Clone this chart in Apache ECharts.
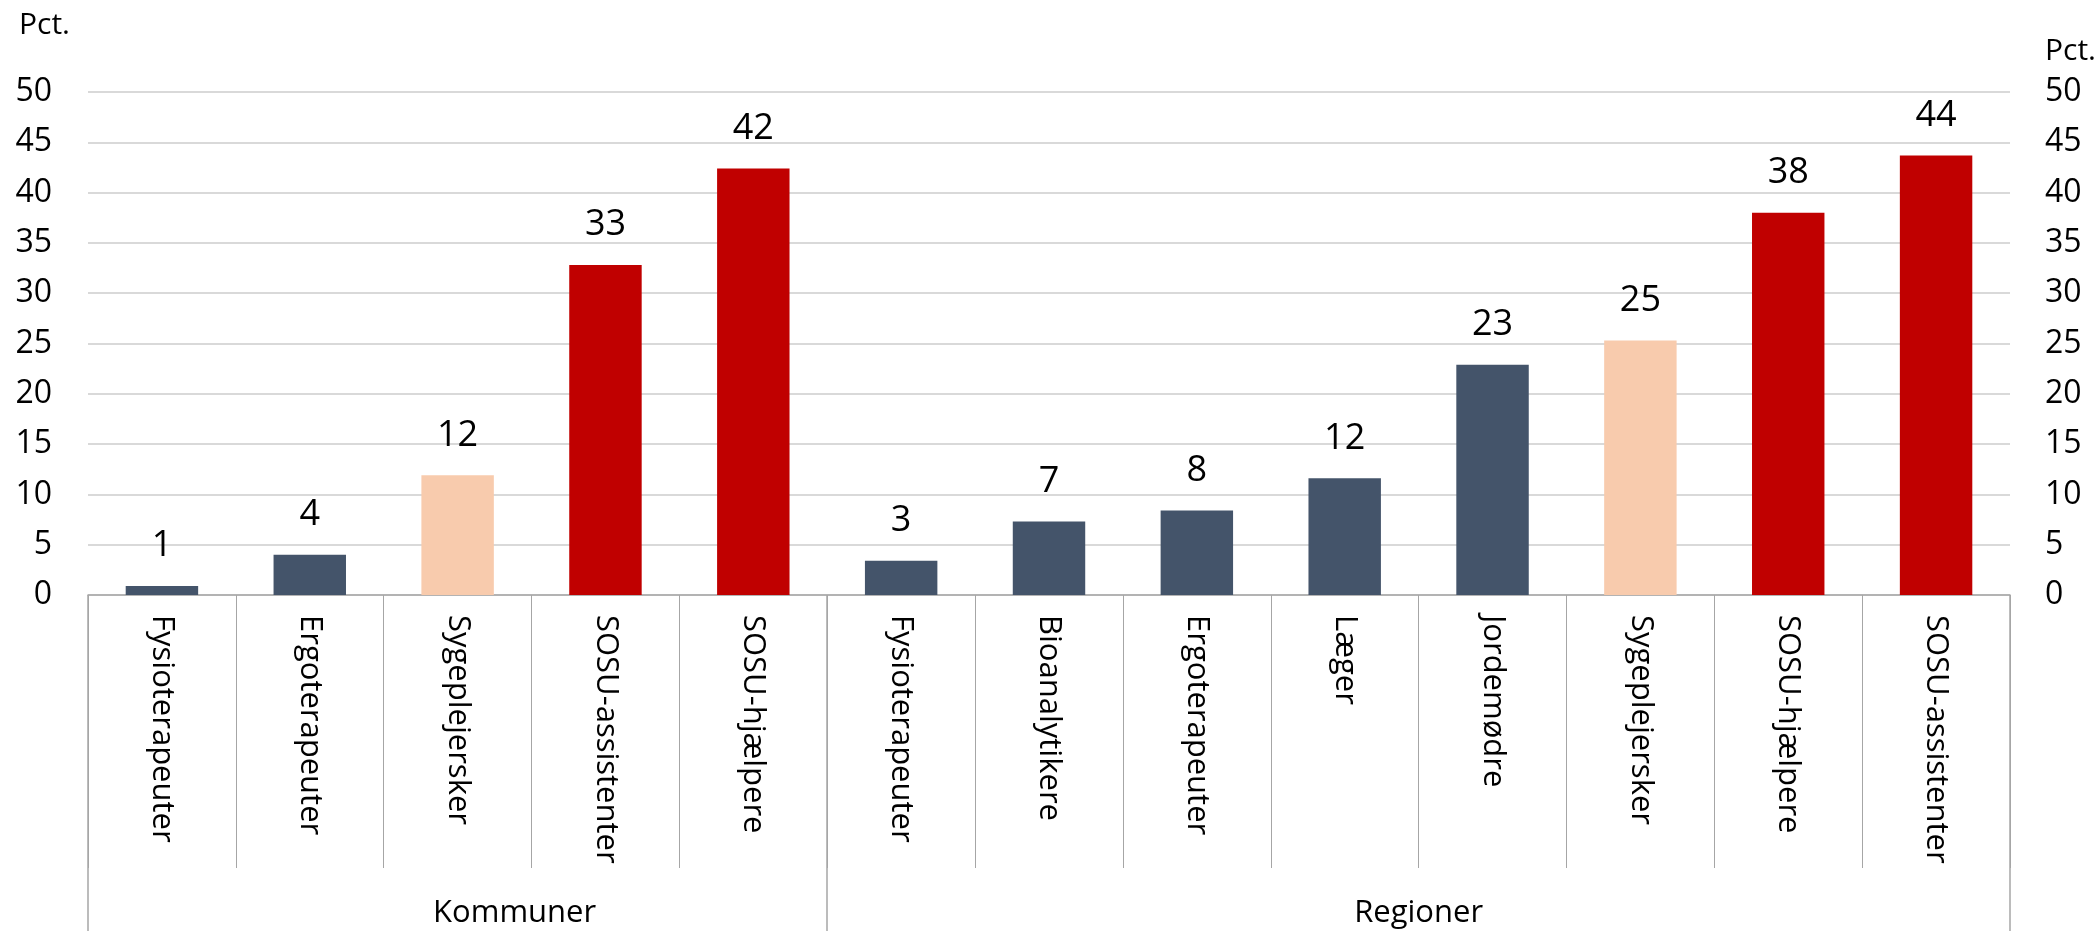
<!DOCTYPE html>
<html>
<head>
<meta charset="utf-8">
<script src="https://cdn.jsdelivr.net/npm/echarts@6/dist/echarts.min.js"></script>
<style>
  html, body { margin: 0; padding: 0; background: #fff; }
  #chart { width: 2100px; height: 931px; }
</style>
</head>
<body>
<div id="chart"></div>
<script>
// kategorier (Kommuner: 5, Regioner: 8)
const categories = [
  'Fysioterapeuter', 'Ergoterapeuter', 'Sygeplejersker', 'SOSU-assistenter', 'SOSU-hjælpere',
  'Fysioterapeuter', 'Bioanalytikere', 'Ergoterapeuter', 'Læger', 'Jordemødre',
  'Sygeplejersker', 'SOSU-hjælpere', 'SOSU-assistenter'
];
const values = [0.9, 4.0, 11.9, 32.8, 42.4, 3.4, 7.3, 8.4, 11.6, 22.9, 25.3, 38.0, 43.7];
// farvegruppe pr. søjle
const barKind = ['other', 'other', 'nurse', 'sosu', 'sosu', 'other', 'other', 'other', 'other', 'other', 'nurse', 'sosu', 'sosu'];
const groupNames = ['Kommuner', 'Regioner'];
const groupSizes = [5, 8];
const yTicks = { min: 0, max: 50, interval: 5 };

const palette = { other: '#44546A', nurse: '#F8CBAD', sosu: '#C00000' };
const FONT = 'Open Sans';
// Excel har skubbet "Kommuner" lidt til højre for midten
const groupLabelShift = [114, 0];

const groupLabelStyle = { fontFamily: FONT, fontSize: 31, color: '#000', verticalAlign: 'middle' };

// gruppe-akse: halve kategori-trin, så både grænser og midtpunkter rammer et punkt
const groupPoints = [];
for (let i = 0; i <= categories.length * 2; i++) groupPoints.push('');
const boundaryIdx = [0];
let acc = 0;
groupNames.forEach((name, i) => {
  groupPoints[acc * 2 + groupSizes[i]] = {
    value: name,
    textStyle: Object.assign({}, groupLabelStyle, { padding: [0, 0, 0, groupLabelShift[i]] })
  };
  acc += groupSizes[i];
  boundaryIdx.push(acc * 2);
});

const chart = echarts.init(document.getElementById('chart'));
chart.setOption({
  animation: false,
  grid: { left: 88, right: 90, top: 92, bottom: 336, containLabel: false, outerBoundsMode: 'none' },
  xAxis: [
    {
      type: 'category',
      position: 'bottom',
      data: categories,
      axisLine: { show: true, lineStyle: { color: '#A6A6A6', width: 1.5 } },
      axisTick: { show: true, interval: 0, length: 273, lineStyle: { color: '#A6A6A6', width: 1 } },
      axisLabel: {
        interval: 0, rotate: -90, margin: 20,
        fontFamily: FONT, fontSize: 31, color: '#000'
      }
    },
    {
      type: 'category',
      position: 'bottom',
      boundaryGap: false,
      data: groupPoints,
      axisLine: { show: false },
      axisTick: {
        show: true, length: 345,
        interval: (idx) => boundaryIdx.includes(idx),
        lineStyle: { color: '#A6A6A6', width: 1.5 }
      },
      axisLabel: Object.assign({ interval: 0, margin: 318 }, groupLabelStyle)
    }
  ],
  yAxis: [
    {
      type: 'value', position: 'left',
      min: yTicks.min, max: yTicks.max, interval: yTicks.interval,
      name: 'Pct.', nameLocation: 'end', nameGap: 67,
      nameTextStyle: { fontFamily: FONT, fontSize: 30, color: '#000', align: 'right', verticalAlign: 'middle', padding: [0, 18, 0, 0] },
      axisLine: { show: false }, axisTick: { show: false },
      axisLabel: { margin: 36, fontFamily: FONT, fontSize: 32, color: '#000' },
      splitLine: { show: true, lineStyle: { color: '#D9D9D9', width: 2 } }
    },
    {
      type: 'value', position: 'right',
      min: yTicks.min, max: yTicks.max, interval: yTicks.interval,
      name: 'Pct.', nameLocation: 'end', nameGap: 41,
      nameTextStyle: { fontFamily: FONT, fontSize: 30, color: '#000', align: 'left', verticalAlign: 'middle', padding: [0, 0, 0, 35] },
      axisLine: { show: false }, axisTick: { show: false },
      axisLabel: { margin: 35, fontFamily: FONT, fontSize: 32, color: '#000' },
      splitLine: { show: false }
    }
  ],
  series: [
    {
      type: 'bar',
      xAxisIndex: 0,
      yAxisIndex: 0,
      barWidth: '49%',
      data: values.map((v, i) => ({ value: v, itemStyle: { color: palette[barKind[i]] } })),
      label: {
        show: true, position: 'top', distance: 22,
        fontFamily: FONT, fontSize: 36, color: '#000',
        formatter: (p) => Math.round(p.value)
      }
    }
  ]
});
</script>
</body>
</html>
